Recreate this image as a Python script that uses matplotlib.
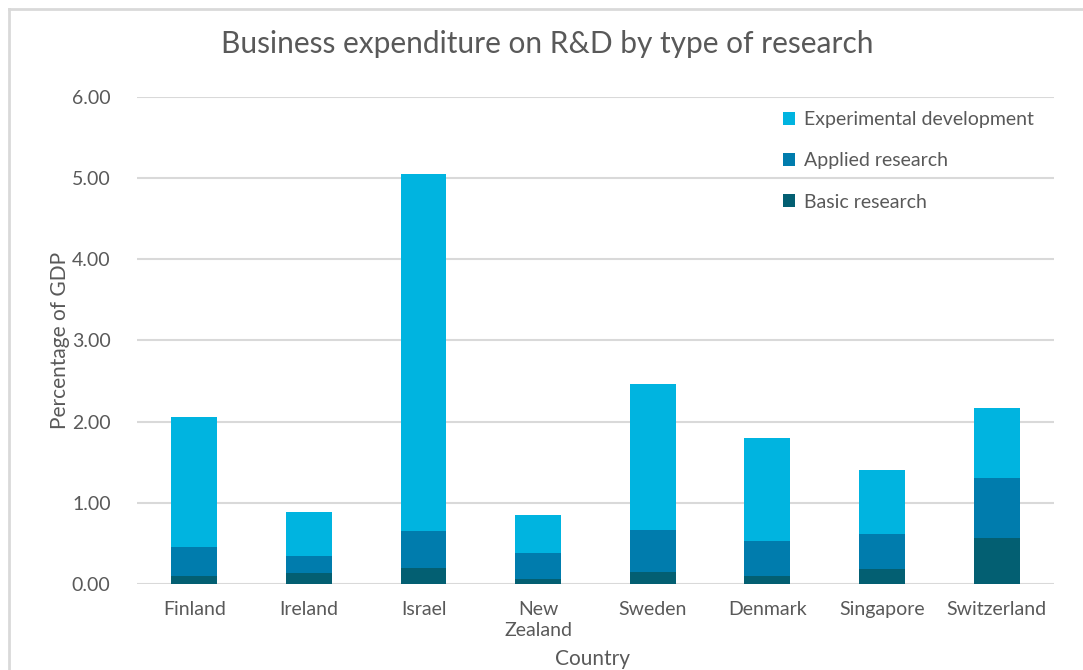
import matplotlib
matplotlib.use("Agg")
import matplotlib.pyplot as plt
import numpy as np
from matplotlib.lines import Line2D

countries = ["Finland", "Ireland", "Israel", "New\nZealand", "Sweden",
             "Denmark", "Singapore", "Switzerland"]
basic = [0.10, 0.14, 0.20, 0.06, 0.15, 0.10, 0.185, 0.57]
applied = [0.35, 0.205, 0.45, 0.32, 0.515, 0.43, 0.43, 0.735]
experimental = [1.61, 0.545, 4.40, 0.47, 1.795, 1.265, 0.785, 0.86]

series = ["Basic research", "Applied research", "Experimental development"]
colors = ["#035F72", "#007CAD", "#00B4E0"]

plt.rcParams["font.family"] = ["Lato", "DejaVu Sans"]
TXT = "#595959"

fig = plt.figure(figsize=(10.83, 6.70), dpi=100)
ax = fig.add_axes([0.1265, 0.1284, 0.8467, 0.7268])

x = np.arange(len(countries))
bottom = np.zeros(len(countries))
bars = []
for vals, name, col in zip([basic, applied, experimental], series, colors):
    b = ax.bar(x, vals, width=0.4, bottom=bottom, color=col, label=name,
               zorder=3)
    bars.append(b)
    bottom += np.array(vals)

ax.set_xlim(-0.5, len(countries) - 0.5)
ax.set_ylim(0, 6)
ax.set_yticks(np.arange(0, 7, 1))
ax.set_yticklabels([f"{v:.2f}" for v in range(7)])
ax.set_xticks(x)
ax.set_xticklabels(countries, linespacing=1.3)
ax.tick_params(axis="both", length=0, labelsize=14, colors=TXT)
ax.tick_params(axis="y", pad=19)
ax.tick_params(axis="x", pad=12)
ax.grid(axis="y", color="#D9D9D9", linewidth=1.5, zorder=0)
for s in ax.spines.values():
    s.set_visible(False)

ax.set_ylabel("Percentage of GDP", fontsize=15, color=TXT, labelpad=1)
fig.text(0.5475, 0.016, "Country", fontsize=15, color=TXT, ha="center",
         va="center")
fig.text(0.5055, 0.935, "Business expenditure on R&D by type of research",
         fontsize=21.5, color=TXT, ha="center", va="center")

handles = [bars[2], bars[1], bars[0]]
ax.legend(handles, [series[2], series[1], series[0]], loc="upper left",
          bbox_to_anchor=(0.685, 1.007), frameon=False, fontsize=14,
          labelcolor=TXT, handlelength=0.65, handleheight=0.65,
          handletextpad=0.45, labelspacing=1.25)

# light outer frame of the chart area
fig.add_artist(Line2D([9 / 1083, 9 / 1083], [0, 1 - 9 / 670],
                      transform=fig.transFigure, color="#D9D9D9", lw=2))
fig.add_artist(Line2D([9 / 1083, 1], [1 - 9 / 670, 1 - 9 / 670],
                      transform=fig.transFigure, color="#D9D9D9", lw=2))

fig.savefig("out.png", dpi=100)
